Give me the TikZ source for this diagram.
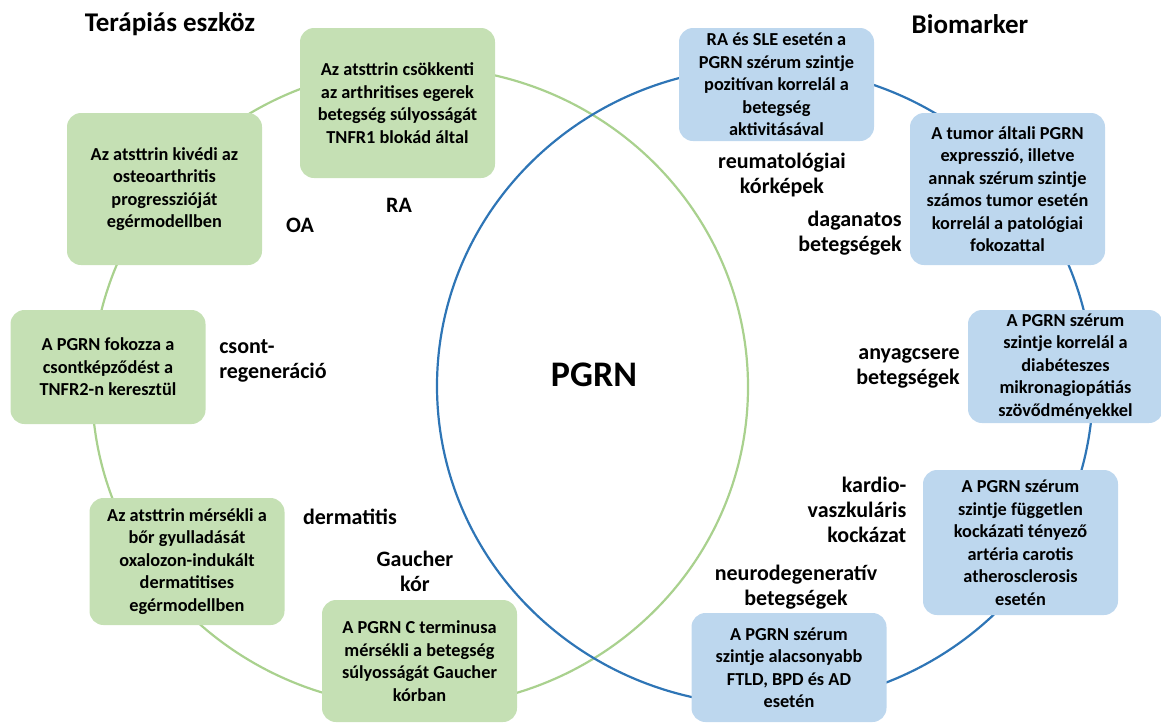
\documentclass[tikz,border=0pt]{standalone}
\usepackage{fontspec}
\setmainfont{Carlito}
\usepackage{tikz}
\usepackage{xcolor}

\definecolor{boxgreen}{RGB}{197,224,180}
\definecolor{boxblue}{RGB}{189,215,238}
\definecolor{ringgreen}{RGB}{169,209,142}
\definecolor{ringblue}{RGB}{46,117,182}

\begin{document}
\begin{tikzpicture}[
    x=1pt, y=-1pt,
    gbox/.style={rounded corners=14pt, fill=boxgreen, align=center, inner sep=0pt, minimum width=195pt, font=\fontsize{18.3}{22.5}\selectfont\bfseries},
    bbox/.style={gbox, fill=boxblue},
    lab/.style={align=center, inner sep=0pt, font=\fontsize{22}{25}\selectfont\bfseries},
    ttl/.style={inner sep=0pt, font=\fontsize{27}{30}\selectfont\bfseries},
    ring/.style={line width=2.2pt}
]
\useasboundingbox (0,0) rectangle (1161,724);

% the two rings
\draw[ring, ringgreen] (420,387) ellipse [x radius=328pt, y radius=320pt];
\draw[ring, ringblue] (765,386) ellipse [x radius=328pt, y radius=319pt];

% titles
\node[ttl] (therapy) at (170,24) {Terápiás eszköz};
\node[ttl] (biomarker) at (970,24) {Biomarker};
\node[inner sep=0pt, font=\fontsize{36}{40}\selectfont\bfseries] (pgrn) at (594,375) {PGRN};

% therapeutic side
\node[gbox, minimum height=150pt] (ra) at (397.5,103) {Az atsttrin csökkenti\\az arthritises egerek\\betegség súlyosságát\\TNFR1 blokád által};
\node[gbox, minimum height=152pt] (oa) at (164.5,189) {Az atsttrin kivédi az\\osteoarthritis\\progresszióját\\egérmodellben};
\node[gbox, minimum height=114pt] (bone) at (108,367) {A PGRN fokozza a\\csontképződést a\\TNFR2-n keresztül};
\node[gbox, minimum height=127pt] (derm) at (187,561.5) {Az atsttrin mérsékli a\\bőr gyulladását\\oxalozon-indukált\\dermatitises\\egérmodellben};
\node[gbox, minimum height=122pt] (gaucher) at (419.5,661) {A PGRN C terminusa\\mérsékli a betegség\\súlyosságát Gaucher\\kórban};

\node[lab] (ralab) at (399,205) {RA};
\node[lab] (oalab) at (300,225) {OA};
\node[lab, align=left] (bonelab) at (273,361) {csont-\\regeneráció};
\node[lab] (dermlab) at (350,517) {dermatitis};
\node[lab] (gaucherlab) at (415,571) {Gaucher\\kór};

% biomarker side
\node[bbox, minimum height=113pt] (sle) at (776.5,84.5) {RA és SLE esetén a\\PGRN szérum szintje\\pozitívan korrelál a\\betegség\\aktivitásával};
\node[bbox, minimum height=152pt] (tumor) at (1007.5,189) {A tumor általi PGRN\\expresszió, illetve\\annak szérum szintje\\számos tumor esetén\\korrelál a patológiai\\fokozattal};
\node[bbox, minimum height=113pt] (metab) at (1065.5,366.5) {A PGRN szérum\\szintje korrelál a\\diabéteszes\\mikronagiopátiás\\szövődményekkel};
\node[bbox, minimum height=145pt] (cardio) at (1020.5,542.5) {A PGRN szérum\\szintje független\\kockázati tényező\\artéria carotis\\atherosclerosis\\esetén};
\node[bbox, minimum height=109pt] (neuro) at (789,667.5) {A PGRN szérum\\szintje alacsonyabb\\FTLD, BPD és AD\\esetén};

\node[lab] (slelab) at (782,175) {reumatológiai\\kórképek};
\node[lab, align=right] (tumorlab) at (850,233.5) {daganatos\\betegségek};
\node[lab, align=right] (metablab) at (908,368) {anyagcsere\\betegségek};
\node[lab, align=right] (cardiolab) at (857,510) {kardio-\\vaszkuláris\\kockázat};
\node[lab] (neurolab) at (796,587) {neurodegeneratív\\betegségek};
\end{tikzpicture}
\end{document}
